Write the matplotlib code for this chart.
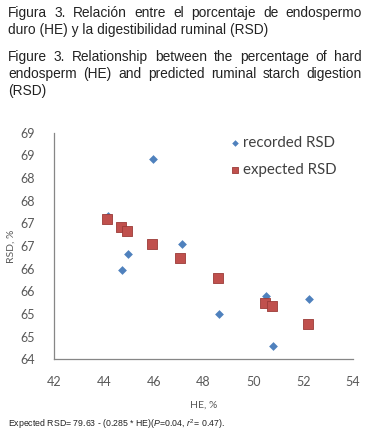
import matplotlib.pyplot as plt

plt.rcParams['mathtext.fontset'] = 'custom'
plt.rcParams['mathtext.rm'] = 'Liberation Sans'
plt.rcParams['mathtext.it'] = 'Liberation Sans:italic'

# Recorded RSD (diamonds)
he_recorded = [44.16, 45.96, 47.13, 44.96, 44.72, 48.61, 50.51, 52.24, 50.78]
rsd_recorded = [67.16, 68.41, 66.55, 66.32, 65.98, 65.00, 65.40, 65.32, 64.30]

# Expected RSD (squares)
he_expected = [44.14, 44.68, 44.92, 45.95, 47.07, 48.59, 50.45, 50.74, 52.19]
rsd_expected = [67.09, 66.91, 66.84, 66.55, 66.23, 65.79, 65.25, 65.17, 64.78]

x_ticks = [42, 44, 46, 48, 50, 52, 54]
y_ticks = [64, 64.5, 65, 65.5, 66, 66.5, 67, 67.5, 68, 68.5, 69]
y_labels = ['64', '65', '65', '66', '66', '67', '67', '68', '68', '69', '69']

title_lines = [
    "Figura 3. Relación entre el porcentaje de endospermo",
    "duro (HE) y la digestibilidad ruminal (RSD)",
    "Figure 3. Relationship between the percentage of hard",
    "endosperm (HE) and predicted ruminal starch digestion",
    "(RSD)",
]
justified = [True, False, True, True, False]
line_y = [13, 30, 57, 74, 91]

W, H = 369, 436
fig = plt.figure(figsize=(W / 100, H / 100), dpi=100)
fig.patch.set_facecolor('white')

# header text, justified lines spread word by word
renderer = fig.canvas.get_renderer()
left_px, right_px = 8, 362
for line, just, yp in zip(title_lines, justified, line_y):
    yf = 1 - yp / H
    if not just:
        fig.text(left_px / W, yf, line, fontsize=9.9, family='Liberation Sans',
                 color='#222222', va='center', ha='left')
        continue
    words = line.split(' ')
    texts = [fig.text(0, yf, w, fontsize=9.9, family='Liberation Sans',
                      color='#222222', va='center', ha='left') for w in words]
    widths = [t.get_window_extent(renderer).width for t in texts]
    gap = (right_px - left_px - sum(widths)) / (len(words) - 1)
    x = left_px
    for t, wd in zip(texts, widths):
        t.set_x(x / W)
        x += wd + gap

ax = fig.add_axes([54 / W, 1 - 359.3 / H, 299 / W, 226.6 / H])
ax.scatter(he_recorded, rsd_recorded, marker='D', s=20, color='#4F81BD',
           linewidths=0, label='recorded RSD', zorder=3)
ax.scatter(he_expected, rsd_expected, marker='s', s=44, color='#C0504D',
           edgecolors='#9B3B38', linewidths=0.6, label='expected RSD', zorder=3)

ax.set_xlim(42, 54)
ax.set_ylim(64, 69)
ax.set_xticks(x_ticks)
ax.set_xticklabels([str(v) for v in x_ticks])
ax.set_yticks(y_ticks)
ax.set_yticklabels(y_labels)
ax.tick_params(length=0, labelsize=9, labelcolor='#595959', pad=14)
ax.tick_params(axis='x', pad=12)
for lab in ax.get_xticklabels() + ax.get_yticklabels():
    lab.set_family('Lato')

for s in ['top', 'right']:
    ax.spines[s].set_visible(False)
for s in ['left', 'bottom']:
    ax.spines[s].set_color('#868686')
    ax.spines[s].set_linewidth(0.9)

ax.set_xlabel('HE, %', fontsize=7.5, family='Lato', color='#595959', labelpad=9)
ax.set_ylabel('RSD, %', fontsize=7.5, family='Lato', color='#595959', labelpad=3)

leg = ax.legend(loc='upper left', bbox_to_anchor=(0.565, 1.013), frameon=False,
                handletextpad=0.15, labelspacing=0.9, markerscale=0.75,
                borderaxespad=0, handlelength=0.8, prop={'family': 'Lato', 'size': 10.8})
for t in leg.get_texts():
    t.set_color('#404040')

fig.text(8 / W, 1 - 424 / H,
         r'Expected RSD= 79.63 - (0.285 * HE)($\it{P}$=0.04, $\it{r}^{2}$= 0.47).',
         fontsize=6.3, family='Liberation Sans', color='#222222', va='center')

fig.savefig('out.png', dpi=100, facecolor='white')
